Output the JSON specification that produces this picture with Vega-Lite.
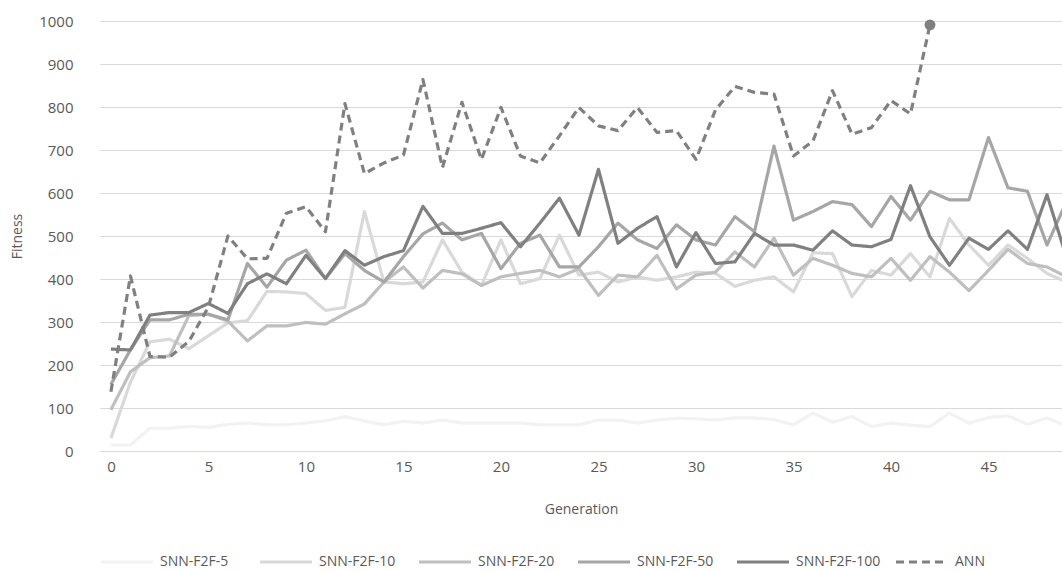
{
  "$schema": "https://vega.github.io/schema/vega-lite/v6.json",
  "width": 962,
  "height": 430,
  "autosize": {"type": "none"},
  "padding": {"left": 100, "top": 21, "right": 0, "bottom": 121},
  "background": "white",
  "config": {
    "font": "Open Sans",
    "view": {"stroke": null},
    "axis": {"labelColor": "#595959", "titleColor": "#595959", "labelFont": "Open Sans", "titleFont": "Open Sans", "titleFontWeight": "normal"}
  },
  "data": {"values": [
    {"g":0,"SNN-F2F-5":14,"SNN-F2F-10":30,"SNN-F2F-20":96,"SNN-F2F-50":155,"SNN-F2F-100":237,"ANN":138},
    {"g":1,"SNN-F2F-5":14,"SNN-F2F-10":160,"SNN-F2F-20":184,"SNN-F2F-50":235,"SNN-F2F-100":235,"ANN":407},
    {"g":2,"SNN-F2F-5":53,"SNN-F2F-10":254,"SNN-F2F-20":217,"SNN-F2F-50":305,"SNN-F2F-100":316,"ANN":220},
    {"g":3,"SNN-F2F-5":53,"SNN-F2F-10":260,"SNN-F2F-20":221,"SNN-F2F-50":305,"SNN-F2F-100":322,"ANN":218},
    {"g":4,"SNN-F2F-5":57,"SNN-F2F-10":238,"SNN-F2F-20":315,"SNN-F2F-50":318,"SNN-F2F-100":322,"ANN":255},
    {"g":5,"SNN-F2F-5":55,"SNN-F2F-10":268,"SNN-F2F-20":318,"SNN-F2F-50":318,"SNN-F2F-100":343,"ANN":335},
    {"g":6,"SNN-F2F-5":62,"SNN-F2F-10":298,"SNN-F2F-20":302,"SNN-F2F-50":305,"SNN-F2F-100":320,"ANN":500},
    {"g":7,"SNN-F2F-5":65,"SNN-F2F-10":303,"SNN-F2F-20":256,"SNN-F2F-50":436,"SNN-F2F-100":389,"ANN":447},
    {"g":8,"SNN-F2F-5":61,"SNN-F2F-10":371,"SNN-F2F-20":291,"SNN-F2F-50":381,"SNN-F2F-100":412,"ANN":448},
    {"g":9,"SNN-F2F-5":61,"SNN-F2F-10":370,"SNN-F2F-20":291,"SNN-F2F-50":444,"SNN-F2F-100":389,"ANN":553},
    {"g":10,"SNN-F2F-5":65,"SNN-F2F-10":366,"SNN-F2F-20":299,"SNN-F2F-50":467,"SNN-F2F-100":455,"ANN":568},
    {"g":11,"SNN-F2F-5":70,"SNN-F2F-10":327,"SNN-F2F-20":295,"SNN-F2F-50":401,"SNN-F2F-100":401,"ANN":510},
    {"g":12,"SNN-F2F-5":80,"SNN-F2F-10":334,"SNN-F2F-20":319,"SNN-F2F-50":459,"SNN-F2F-100":466,"ANN":808},
    {"g":13,"SNN-F2F-5":70,"SNN-F2F-10":557,"SNN-F2F-20":342,"SNN-F2F-50":420,"SNN-F2F-100":432,"ANN":645},
    {"g":14,"SNN-F2F-5":61,"SNN-F2F-10":393,"SNN-F2F-20":393,"SNN-F2F-50":393,"SNN-F2F-100":452,"ANN":670},
    {"g":15,"SNN-F2F-5":69,"SNN-F2F-10":389,"SNN-F2F-20":428,"SNN-F2F-50":452,"SNN-F2F-100":466,"ANN":688},
    {"g":16,"SNN-F2F-5":65,"SNN-F2F-10":393,"SNN-F2F-20":379,"SNN-F2F-50":505,"SNN-F2F-100":569,"ANN":864},
    {"g":17,"SNN-F2F-5":72,"SNN-F2F-10":491,"SNN-F2F-20":420,"SNN-F2F-50":530,"SNN-F2F-100":506,"ANN":659},
    {"g":18,"SNN-F2F-5":65,"SNN-F2F-10":416,"SNN-F2F-20":412,"SNN-F2F-50":491,"SNN-F2F-100":506,"ANN":811},
    {"g":19,"SNN-F2F-5":65,"SNN-F2F-10":385,"SNN-F2F-20":385,"SNN-F2F-50":506,"SNN-F2F-100":518,"ANN":678},
    {"g":20,"SNN-F2F-5":65,"SNN-F2F-10":491,"SNN-F2F-20":405,"SNN-F2F-50":424,"SNN-F2F-100":531,"ANN":799},
    {"g":21,"SNN-F2F-5":65,"SNN-F2F-10":389,"SNN-F2F-20":413,"SNN-F2F-50":483,"SNN-F2F-100":475,"ANN":686},
    {"g":22,"SNN-F2F-5":61,"SNN-F2F-10":401,"SNN-F2F-20":420,"SNN-F2F-50":502,"SNN-F2F-100":530,"ANN":670},
    {"g":23,"SNN-F2F-5":61,"SNN-F2F-10":502,"SNN-F2F-20":405,"SNN-F2F-50":428,"SNN-F2F-100":588,"ANN":733},
    {"g":24,"SNN-F2F-5":61,"SNN-F2F-10":409,"SNN-F2F-20":424,"SNN-F2F-50":428,"SNN-F2F-100":502,"ANN":799},
    {"g":25,"SNN-F2F-5":72,"SNN-F2F-10":416,"SNN-F2F-20":362,"SNN-F2F-50":475,"SNN-F2F-100":655,"ANN":756},
    {"g":26,"SNN-F2F-5":72,"SNN-F2F-10":393,"SNN-F2F-20":409,"SNN-F2F-50":530,"SNN-F2F-100":483,"ANN":745},
    {"g":27,"SNN-F2F-5":65,"SNN-F2F-10":405,"SNN-F2F-20":405,"SNN-F2F-50":491,"SNN-F2F-100":518,"ANN":799},
    {"g":28,"SNN-F2F-5":72,"SNN-F2F-10":397,"SNN-F2F-20":455,"SNN-F2F-50":471,"SNN-F2F-100":545,"ANN":741},
    {"g":29,"SNN-F2F-5":76,"SNN-F2F-10":405,"SNN-F2F-20":377,"SNN-F2F-50":526,"SNN-F2F-100":428,"ANN":745},
    {"g":30,"SNN-F2F-5":75,"SNN-F2F-10":416,"SNN-F2F-20":409,"SNN-F2F-50":491,"SNN-F2F-100":508,"ANN":678},
    {"g":31,"SNN-F2F-5":72,"SNN-F2F-10":413,"SNN-F2F-20":416,"SNN-F2F-50":479,"SNN-F2F-100":436,"ANN":793},
    {"g":32,"SNN-F2F-5":77,"SNN-F2F-10":383,"SNN-F2F-20":463,"SNN-F2F-50":545,"SNN-F2F-100":440,"ANN":848},
    {"g":33,"SNN-F2F-5":77,"SNN-F2F-10":397,"SNN-F2F-20":428,"SNN-F2F-50":510,"SNN-F2F-100":506,"ANN":834},
    {"g":34,"SNN-F2F-5":73,"SNN-F2F-10":405,"SNN-F2F-20":495,"SNN-F2F-50":709,"SNN-F2F-100":479,"ANN":830},
    {"g":35,"SNN-F2F-5":61,"SNN-F2F-10":370,"SNN-F2F-20":409,"SNN-F2F-50":537,"SNN-F2F-100":479,"ANN":686},
    {"g":36,"SNN-F2F-5":88,"SNN-F2F-10":461,"SNN-F2F-20":448,"SNN-F2F-50":557,"SNN-F2F-100":467,"ANN":721},
    {"g":37,"SNN-F2F-5":67,"SNN-F2F-10":459,"SNN-F2F-20":432,"SNN-F2F-50":580,"SNN-F2F-100":512,"ANN":838},
    {"g":38,"SNN-F2F-5":80,"SNN-F2F-10":359,"SNN-F2F-20":413,"SNN-F2F-50":573,"SNN-F2F-100":479,"ANN":737},
    {"g":39,"SNN-F2F-5":57,"SNN-F2F-10":420,"SNN-F2F-20":405,"SNN-F2F-50":522,"SNN-F2F-100":475,"ANN":752},
    {"g":40,"SNN-F2F-5":65,"SNN-F2F-10":409,"SNN-F2F-20":448,"SNN-F2F-50":592,"SNN-F2F-100":492,"ANN":815},
    {"g":41,"SNN-F2F-5":60,"SNN-F2F-10":459,"SNN-F2F-20":397,"SNN-F2F-50":537,"SNN-F2F-100":617,"ANN":784},
    {"g":42,"SNN-F2F-5":57,"SNN-F2F-10":405,"SNN-F2F-20":452,"SNN-F2F-50":604,"SNN-F2F-100":498,"ANN":991},
    {"g":43,"SNN-F2F-5":88,"SNN-F2F-10":541,"SNN-F2F-20":416,"SNN-F2F-50":584,"SNN-F2F-100":432,"ANN":null},
    {"g":44,"SNN-F2F-5":65,"SNN-F2F-10":479,"SNN-F2F-20":373,"SNN-F2F-50":584,"SNN-F2F-100":495,"ANN":null},
    {"g":45,"SNN-F2F-5":78,"SNN-F2F-10":432,"SNN-F2F-20":420,"SNN-F2F-50":729,"SNN-F2F-100":469,"ANN":null},
    {"g":46,"SNN-F2F-5":82,"SNN-F2F-10":479,"SNN-F2F-20":469,"SNN-F2F-50":612,"SNN-F2F-100":512,"ANN":null},
    {"g":47,"SNN-F2F-5":62,"SNN-F2F-10":448,"SNN-F2F-20":436,"SNN-F2F-50":604,"SNN-F2F-100":469,"ANN":null},
    {"g":48,"SNN-F2F-5":77,"SNN-F2F-10":413,"SNN-F2F-20":428,"SNN-F2F-50":479,"SNN-F2F-100":596,"ANN":null},
    {"g":49,"SNN-F2F-5":58,"SNN-F2F-10":393,"SNN-F2F-20":405,"SNN-F2F-50":580,"SNN-F2F-100":450,"ANN":null}
  ]},
  "transform": [
    {"fold": ["SNN-F2F-5","SNN-F2F-10","SNN-F2F-20","SNN-F2F-50","SNN-F2F-100","ANN"], "as": ["series","fitness"]},
    {"filter": "datum.fitness != null"}
  ],
  "encoding": {
    "x": {"field": "g", "type": "quantitative",
      "scale": {"domain": [-0.56, 48.77], "nice": false, "zero": false},
      "axis": {"values": [0,5,10,15,20,25,30,35,40,45], "grid": false, "domain": false, "ticks": false, "labelFontSize": 15, "labelPadding": 8, "title": "Generation", "titleFontSize": 14, "titlePadding": 28}},
    "y": {"field": "fitness", "type": "quantitative",
      "scale": {"domain": [0, 1000], "nice": false},
      "axis": {"values": [0,100,200,300,400,500,600,700,800,900,1000], "format": "d", "grid": true, "gridColor": "#d9d9d9", "gridWidth": 1, "domain": false, "ticks": false, "labelFontSize": 15, "labelPadding": 27, "title": "Fitness", "titleFontSize": 14, "titlePadding": 14}}
  },
  "layer": [
    {
      "mark": {"type": "line", "strokeWidth": 3.2, "clip": true, "strokeJoin": "round"},
      "encoding": {
        "color": {"field": "series", "type": "nominal",
          "scale": {"domain": ["SNN-F2F-5","SNN-F2F-10","SNN-F2F-20","SNN-F2F-50","SNN-F2F-100","ANN"],
                    "range": ["#f2f2f2","#d9d9d9","#bfbfbf","#a6a6a6","#808080","#808080"]},
          "sort": ["SNN-F2F-5","SNN-F2F-10","SNN-F2F-20","SNN-F2F-50","SNN-F2F-100","ANN"],
          "legend": {"title": null, "orient": "none", "legendX": -1, "legendY": 513, "direction": "horizontal", "columns": 6,
                     "symbolType": "stroke", "symbolSize": 2704, "symbolStrokeWidth": 3.2, "labelFontSize": 14, "labelColor": "#595959",
                     "labelFont": "Open Sans", "labelOffset": 5, "columnPadding": 8, "gridAlign": "all"}},
        "strokeDash": {"field": "series", "type": "nominal",
          "scale": {"domain": ["SNN-F2F-5","SNN-F2F-10","SNN-F2F-20","SNN-F2F-50","SNN-F2F-100","ANN"],
                    "range": [[1,0],[1,0],[1,0],[1,0],[1,0],[8,5]]},
          "sort": ["SNN-F2F-5","SNN-F2F-10","SNN-F2F-20","SNN-F2F-50","SNN-F2F-100","ANN"],
          "legend": {"title": null, "orient": "none", "legendX": -1, "legendY": 513, "direction": "horizontal", "columns": 6,
                     "symbolType": "stroke", "symbolSize": 2704, "symbolStrokeWidth": 3.2, "labelFontSize": 14, "labelColor": "#595959",
                     "labelFont": "Open Sans", "labelOffset": 5, "columnPadding": 8, "gridAlign": "all"}}
      }
    },
    {
      "transform": [{"filter": "datum.series == 'ANN' && datum.g == 42"}],
      "mark": {"type": "point", "filled": true, "size": 120, "opacity": 1, "color": "#808080"},
      "encoding": {}
    }
  ]
}
